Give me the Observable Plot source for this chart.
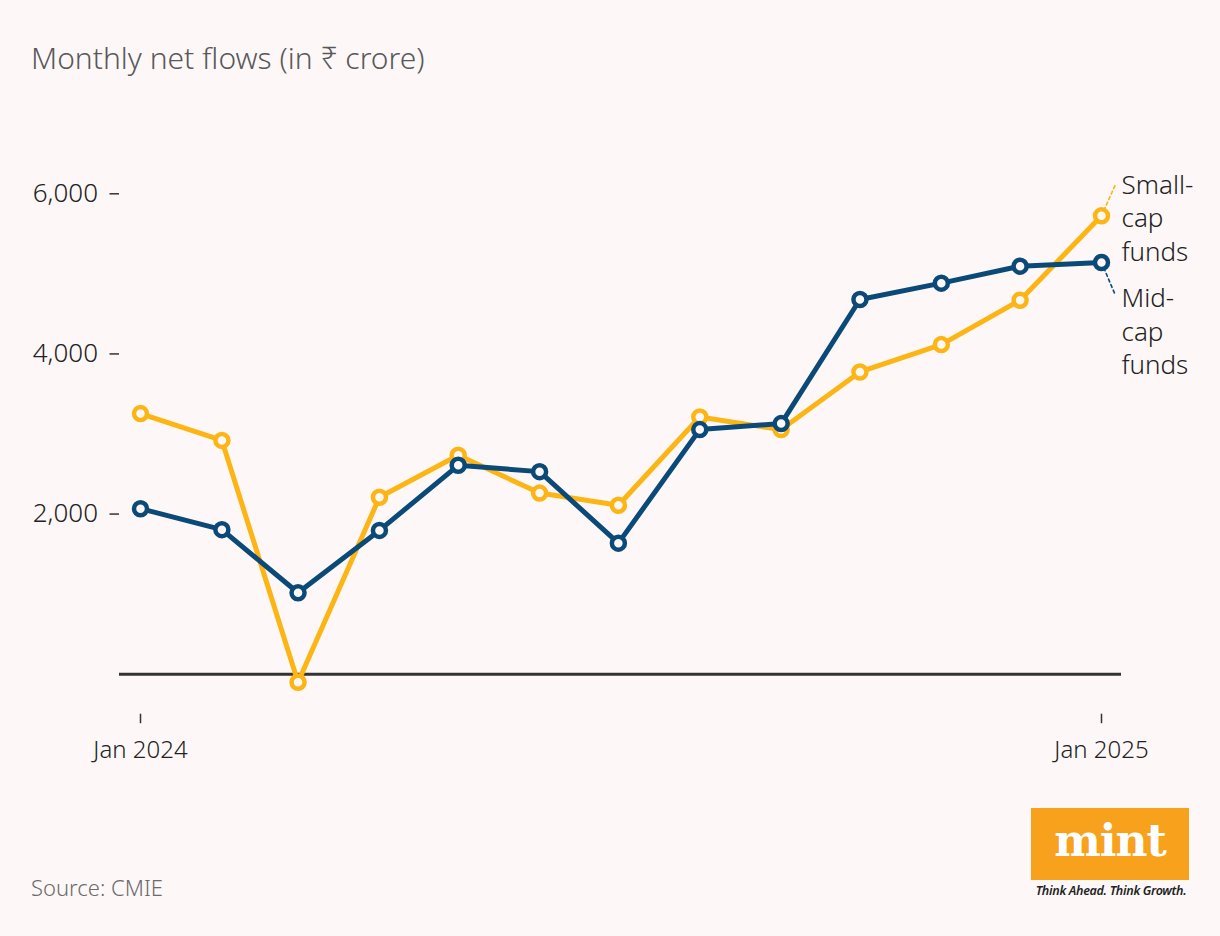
<!DOCTYPE html>
<html>
<head>
<meta charset="utf-8">
<script src="https://cdn.jsdelivr.net/npm/d3@7"></script>
<script src="https://cdn.jsdelivr.net/npm/@observablehq/plot@0.6"></script>
<style>
  html, body { margin: 0; padding: 0; background: #fdf8f7; }
  #wrap { position: relative; width: 1220px; height: 936px; font-family: "Noto Sans", sans-serif; overflow: hidden; }
  #title { position: absolute; left: 31px; top: 38px; font-size: 30px; line-height: 40px; font-weight: 300; color: #58595b; white-space: nowrap; }
  #chart { position: absolute; left: 0; top: 100px; }
  #source { position: absolute; left: 31px; top: 872px; font-size: 22px; line-height: 30px; color: #6b6b6b; font-weight: 300; }
  #logo { position: absolute; left: 1031px; top: 808px; width: 158px; height: 72px; background: #f8a11d; display: flex; align-items: center; justify-content: center; }
  #logo span { font-family: "DejaVu Serif", serif; font-weight: bold; color: #fff; font-size: 44px; letter-spacing: -1px; line-height: 1; margin-top: -6px; }
  #tag { position: absolute; left: 1030px; top: 882px; width: 162px; text-align: center; font-family: "Noto Sans", sans-serif; font-style: italic; font-weight: 600; font-size: 12.5px; color: #222; white-space: nowrap; letter-spacing: -0.3px; }
</style>
</head>
<body>
<div id="wrap">
  <div id="title">Monthly net flows (in ₹ crore)</div>
  <div id="chart"></div>
  <div id="source">Source: CMIE</div>
  <div id="logo"><span>mint</span></div>
  <div id="tag">Think Ahead. Think Growth.</div>
</div>
<script>
// ---- data ----
const months = ["2024-01-01","2024-02-01","2024-03-01","2024-04-01","2024-05-01","2024-06-01","2024-07-01","2024-08-01","2024-09-01","2024-10-01","2024-11-01","2024-12-01","2025-01-01"];
const smallCap = [3255, 2920, -100, 2210, 2735, 2262, 2110, 3212, 3055, 3775, 4117, 4671, 5725];
const midCap   = [2067, 1805, 1017, 1796, 2609, 2530, 1637, 3055, 3130, 4680, 4884, 5096, 5142];
const seriesLabels = ["Small-\ncap\nfunds", "Mid-\ncap\nfunds"];
const yTicks = [2000, 4000, 6000];
const xTicks = ["2024-01-01", "2025-01-01"];

const yellow = "#fdb515";
const blue = "#0b4a78";
const bg = "#fdf8f7";

const smallData = months.map((m, i) => ({date: new Date(m), value: smallCap[i]}));
const midData = months.map((m, i) => ({date: new Date(m), value: midCap[i]}));
const lastSmall = [smallData[smallData.length - 1]];
const lastMid = [midData[midData.length - 1]];

const lineShape = { draw(context, l) { context.moveTo(0, 0); context.lineTo(0, -l); } };

const chart = Plot.plot({
  width: 1220,
  height: 700,
  marginLeft: 119,
  marginRight: 99,
  marginTop: 93.3,
  marginBottom: 126.3,
  style: { background: "transparent", fontFamily: "Noto Sans", fontWeight: 300, color: "#222" },
  x: { type: "utc", domain: [new Date(months[0]), new Date(months[months.length - 1])], insetLeft: 21, insetRight: 20 },
  y: { domain: [0, 6000] },
  marks: [
    Plot.axisY({ ticks: yTicks, tickFormat: d3.format(","), tickSize: 9.5, tickPadding: 12, fontSize: 26, stroke: "#333", fill: "#222", strokeWidth: 1.5, label: null }),
    Plot.axisX({ ticks: xTicks.map(d => new Date(d)), tickFormat: d3.utcFormat("%b %Y"), tickSize: 9.5, tickPadding: 17.5, dy: 40, fontSize: 24, stroke: "#333", fill: "#222", strokeWidth: 1.5, label: null }),
    Plot.ruleY([0], { stroke: "#333", strokeWidth: 3 }),
    Plot.vector(lastSmall, { x: "date", y: "value", length: 36, rotate: 24, anchor: "start", shape: lineShape, stroke: yellow, strokeWidth: 1.6, strokeDasharray: "3,3" }),
    Plot.vector(lastMid, { x: "date", y: "value", length: 36, rotate: 157, anchor: "start", shape: lineShape, stroke: blue, strokeWidth: 1.6, strokeDasharray: "3,3" }),
    Plot.line(smallData, { x: "date", y: "value", stroke: yellow, strokeWidth: 5 }),
    Plot.dot(smallData, { x: "date", y: "value", r: 6.5, stroke: yellow, strokeWidth: 4.5, fill: bg }),
    Plot.line(midData, { x: "date", y: "value", stroke: blue, strokeWidth: 5 }),
    Plot.dot(midData, { x: "date", y: "value", r: 6.5, stroke: blue, strokeWidth: 4.5, fill: bg }),
    Plot.text(lastSmall, { x: "date", y: "value", text: () => seriesLabels[0], dx: 20, dy: -46, textAnchor: "start", lineAnchor: "top", fontSize: 26, lineHeight: 1.29, fill: "#222" }),
    Plot.text(lastMid, { x: "date", y: "value", text: () => seriesLabels[1], dx: 20, dy: 21, textAnchor: "start", lineAnchor: "top", fontSize: 26, lineHeight: 1.29, fill: "#222" })
  ]
});
document.getElementById("chart").appendChild(chart);
</script>
</body>
</html>
